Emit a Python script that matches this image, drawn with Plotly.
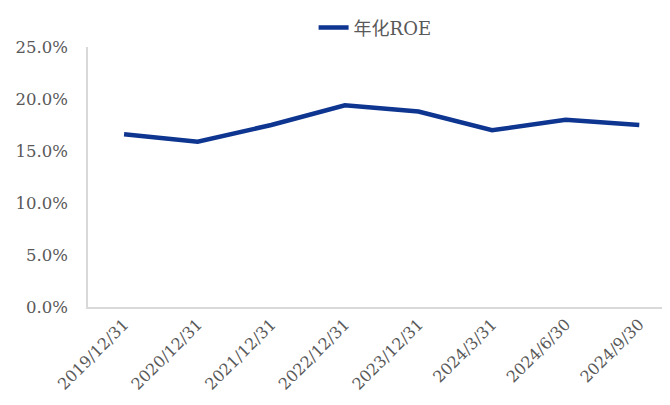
import plotly.graph_objects as go

categories = ["2019/12/31", "2020/12/31", "2021/12/31", "2022/12/31",
              "2023/12/31", "2024/3/31", "2024/6/30", "2024/9/30"]
roe = [0.166, 0.159, 0.175, 0.194, 0.188, 0.170, 0.180, 0.175]
series_name = "年化ROE"
y_ticks = [0, 0.05, 0.10, 0.15, 0.20, 0.25]

font_family = "'DejaVu Serif', 'Noto Sans CJK SC', serif"
text_color = "#595959"

fig = go.Figure()
fig.add_trace(go.Scatter(
    x=list(range(len(categories))), y=roe, mode="lines", name=series_name,
    line=dict(color="#0E3590", width=4.5),
))

fig.update_layout(
    width=670, height=405,
    margin=dict(l=80, r=10, t=39, b=106, autoexpand=False),
    paper_bgcolor="white", plot_bgcolor="white",
    font=dict(family=font_family, size=16, color=text_color),
    showlegend=True,
    legend=dict(orientation="h", x=0.495, xanchor="center",
                yref="container", y=0.951, yanchor="middle",
                font=dict(size=18, color=text_color), bgcolor="rgba(0,0,0,0)"),
    xaxis=dict(
        tickmode="array", tickvals=list(range(len(categories))), ticktext=categories,
        range=[-0.49, 7.39], tickangle=-45, showgrid=False, zeroline=False,
        showline=True, linecolor="#D9D9D9", linewidth=1.5, ticks="",
        tickfont=dict(size=16, color=text_color), automargin=False,
    ),
    yaxis=dict(
        range=[0, 0.25], tickvals=y_ticks, tickformat=".1%", showgrid=False,
        zeroline=False, showline=True, linecolor="#D9D9D9", linewidth=1.5, ticks="",
        tickfont=dict(size=16.5, color=text_color), ticklabelstandoff=15,
        automargin=False,
    ),
)

fig.write_html("out.html")
